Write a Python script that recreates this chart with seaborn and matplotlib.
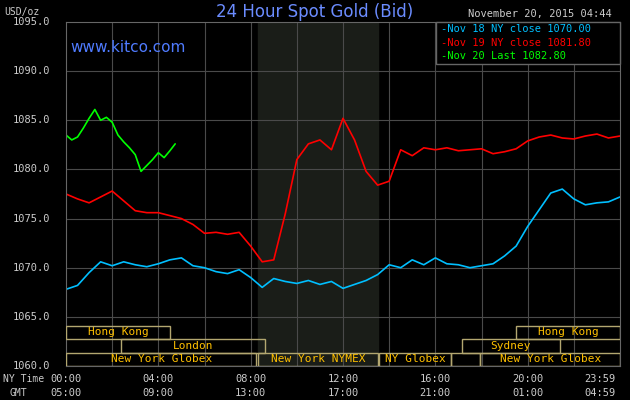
import numpy as np
import pandas as pd
import seaborn as sns
import matplotlib as mpl
mpl.use("Agg")
from matplotlib import pyplot as plt
from matplotlib.patches import Rectangle

# hours since 00:00 NY time, half-hour steps
hours = [i * 0.5 for i in range(49)]
nov18 = [1067.8, 1068.2, 1069.5, 1070.6, 1070.2, 1070.6, 1070.3, 1070.1, 1070.4, 1070.8,
         1071.0, 1070.2, 1070.0, 1069.6, 1069.4, 1069.8, 1069.0, 1068.0, 1068.9, 1068.6,
         1068.4, 1068.7, 1068.3, 1068.6, 1067.9, 1068.3, 1068.7, 1069.3, 1070.3, 1070.0,
         1070.8, 1070.3, 1071.0, 1070.4, 1070.3, 1070.0, 1070.2, 1070.4, 1071.2, 1072.2,
         1074.2, 1075.9, 1077.6, 1078.0, 1077.0, 1076.4, 1076.6, 1076.7, 1077.2]
nov19 = [1077.5, 1077.0, 1076.6, 1077.2, 1077.8, 1076.8, 1075.8, 1075.6, 1075.6, 1075.3,
         1075.0, 1074.4, 1073.5, 1073.6, 1073.4, 1073.6, 1072.2, 1070.6, 1070.8, 1075.5,
         1081.0, 1082.6, 1083.0, 1082.0, 1085.2, 1083.0, 1079.8, 1078.4, 1078.8, 1082.0,
         1081.4, 1082.2, 1082.0, 1082.2, 1081.9, 1082.0, 1082.1, 1081.6, 1081.8, 1082.1,
         1082.9, 1083.3, 1083.5, 1083.2, 1083.1, 1083.4, 1083.6, 1083.2, 1083.4]
hours20 = [0.0, 0.25, 0.5, 0.75, 1.0, 1.25, 1.5, 1.75, 2.0, 2.25, 2.5, 2.75, 3.0,
           3.25, 3.5, 3.75, 4.0, 4.25, 4.5, 4.73]
nov20 = [1083.5, 1083.0, 1083.3, 1084.2, 1085.2, 1086.1, 1085.0, 1085.3, 1084.8, 1083.5,
         1082.8, 1082.2, 1081.5, 1079.8, 1080.4, 1081.0, 1081.7, 1081.2, 1081.9, 1082.6]

series_labels = ["Nov 18 NY close 1070.00", "Nov 19 NY close 1081.80", "Nov 20 Last 1082.80"]
series_colors = ["#00bfff", "#ff0000", "#00ff00"]
y_ticks = [1060, 1065, 1070, 1075, 1080, 1085, 1090, 1095]
x_ticks = [0, 4, 8, 12, 16, 20, 23.98]
ny_labels = ["00:00", "04:00", "08:00", "12:00", "16:00", "20:00", "23:59"]
gmt_labels = ["05:00", "09:00", "13:00", "17:00", "21:00", "01:00", "04:59"]
# (name, start, end, row)
sessions = [("Hong Kong", 0, 4.5, 2), ("Hong Kong", 19.5, 24, 2),
            ("London", 2.4, 8.6, 1), ("Sydney", 17.15, 21.4, 1),
            ("New York Globex", 0, 8.25, 0), ("New York NYMEX", 8.33, 13.5, 0),
            ("NY Globex", 13.55, 16.7, 0), ("", 16.7, 17.95, 0),
            ("New York Globex", 17.95, 24, 0)]

sns.set_style("dark", {"axes.facecolor": "black", "figure.facecolor": "black"})
plt.rcParams["font.family"] = ["DejaVu Sans Mono"]

fig = plt.figure(figsize=(6.3, 4.0), dpi=100)
ax = fig.add_axes([66 / 630, 1 - 366 / 400, 554 / 630, 344 / 400])
ax.set_facecolor("black")

df = pd.concat([
    pd.DataFrame({"h": hours, "p": nov18, "s": series_labels[0]}),
    pd.DataFrame({"h": hours, "p": nov19, "s": series_labels[1]}),
    pd.DataFrame({"h": hours20, "p": nov20, "s": series_labels[2]}),
])
sns.lineplot(data=df, x="h", y="p", hue="s", palette=series_colors, ax=ax,
             legend=False, linewidth=1.2)

ax.axvspan(8.33, 13.5, color="#1a1d18", zorder=0)
ax.set_xlim(0, 24)
ax.set_ylim(1060, 1095)
for h in range(2, 24, 2):
    ax.axvline(h, color="#4a4a4a", lw=0.8, zorder=0.5)
for v in y_ticks[1:-1]:
    ax.axhline(v, color="#4a4a4a", lw=0.8, zorder=0.5)
for s in ax.spines.values():
    s.set_color("#666666")
ax.set_xticks([])
ax.set_yticks([])
ax.set_xlabel("")
ax.set_ylabel("")

# session bars, three rows of ~13.5 px
row_h = 40.5 * 35 / 344 / 3
for name, a, b, row in sessions:
    y0 = 1060 + row * row_h
    ax.add_patch(Rectangle((a, y0), b - a, row_h, fill=False, ec="#b3a770", lw=1, zorder=3))
    if name:
        ax.text((a + b) / 2, y0 + row_h / 2, name, color="#ffc000", fontsize=8,
                ha="center", va="center", zorder=4)

for v in y_ticks:
    fig.text(50 / 630, 1 - (366 - (v - 1060) * 344 / 35) / 400, f"{v:.1f}",
             color="#cccccc", fontsize=7.5, ha="right", va="center")
fig.text(4 / 630, 1 - 12 / 400, "USD/oz", color="#cccccc", fontsize=7, va="center")
for t, a, b in zip(x_ticks, ny_labels, gmt_labels):
    x = (66 + t / 24 * 554) / 630
    x = min(x, 600 / 630)
    fig.text(x, 1 - 379 / 400, a, color="#cccccc", fontsize=7.5, ha="center", va="center")
    fig.text(x, 1 - 393 / 400, b, color="#cccccc", fontsize=7.5, ha="center", va="center")
fig.text(3 / 630, 1 - 379 / 400, "NY Time", color="#cccccc", fontsize=7, va="center")
fig.text(10 / 630, 1 - 393 / 400, "GMT", color="#cccccc", fontsize=7, va="center")

fig.text(0.5, 1 - 12 / 400, "24 Hour Spot Gold (Bid)", color="#6b8cff", fontsize=12,
         ha="center", va="center", family="DejaVu Sans")
fig.text(70 / 630, 1 - 48 / 400, "www.kitco.com", color="#4f7bff", fontsize=11,
         va="center", family="DejaVu Sans")
fig.text(612 / 630, 1 - 14 / 400, "November 20, 2015 04:44", color="#cccccc", fontsize=7.5,
         ha="right", va="center")

# legend box
fig.patches.append(Rectangle((436 / 630, 1 - 64 / 400), 184 / 630, 42 / 400, fill=True,
                             fc="black", ec="#666666", lw=1, transform=fig.transFigure, zorder=5))
for i, (lab, c) in enumerate(zip(series_labels, series_colors)):
    fig.text(441 / 630, 1 - (29 + i * 13.5) / 400, "-" + lab, color=c, fontsize=7.5,
             va="center", zorder=6)

fig.savefig("out.png", dpi=100, facecolor="black")
